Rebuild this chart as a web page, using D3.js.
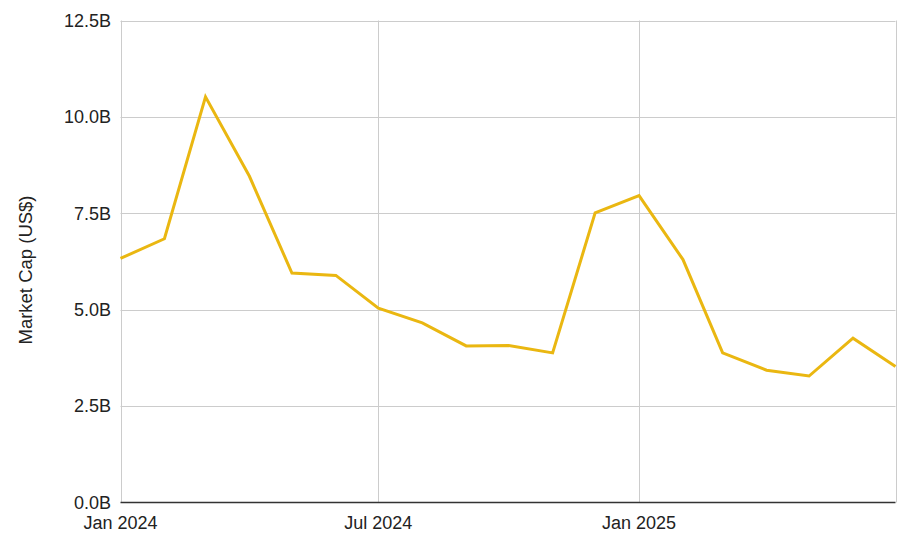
<!DOCTYPE html>
<html><head><meta charset="utf-8">
<script src="https://cdn.jsdelivr.net/npm/d3@7"></script>
<style>body{margin:0;background:#fff}svg{display:block}text{font-family:"Liberation Sans",Arial,sans-serif}</style>
</head><body><svg id="c" width="906" height="534"></svg>
<script>
const months = ["2024-01","2024-02","2024-03","2024-04","2024-05","2024-06","2024-07","2024-08","2024-09","2024-10","2024-11","2024-12","2025-01","2025-02","2025-03","2025-04","2025-05","2025-06","2025-07"];
const marketCap = [6.33,6.84,10.52,8.46,5.95,5.89,5.04,4.66,4.06,4.07,3.88,7.51,7.96,6.30,3.88,3.43,3.28,4.26,3.53];
const yTicks = [0,2.5,5,7.5,10,12.5];
const xTicks = ["2024-01","2024-07","2025-01","2025-07"];
const xTickLabels = ["Jan 2024","Jul 2024","Jan 2025",""];

const svg = d3.select("#c");
const parse = d3.timeParse("%Y-%m");
const L=120.5, R=895.5, T=20.5, B=502.5;
const x = d3.scaleTime().domain([parse("2024-01"), parse("2025-07")]).range([L,R]);
const y = d3.scaleLinear().domain([0,12.5]).range([B,T]);

// horizontal gridlines
svg.append("g").selectAll("line").data(yTicks.filter(d=>d>0)).join("line")
  .attr("x1",L).attr("x2",R).attr("y1",d=>Math.round(y(d))+0.5).attr("y2",d=>Math.round(y(d))+0.5)
  .attr("stroke","#cccccc").attr("stroke-width",1);
// vertical gridlines
svg.append("g").selectAll("line").data(xTicks).join("line")
  .attr("x1",d=>Math.round(x(parse(d)))+0.5).attr("x2",d=>Math.round(x(parse(d)))+0.5)
  .attr("y1",T).attr("y2",B).attr("stroke","#cccccc").attr("stroke-width",1);
// baseline
svg.append("line").attr("x1",L).attr("x2",R).attr("y1",y(0)).attr("y2",y(0))
  .attr("stroke","#333333").attr("stroke-width",1.5);

// y labels
svg.append("g").selectAll("text").data(yTicks).join("text")
  .attr("x",111).attr("y",d=>y(d)).attr("dy","0.35em").attr("text-anchor","end")
  .attr("font-size",18).attr("fill","#222").text(d=>d.toFixed(1)+"B");
// x labels
svg.append("g").selectAll("text").data(xTicks).join("text")
  .attr("x",d=>x(parse(d))).attr("y",529).attr("text-anchor","middle")
  .attr("font-size",18).attr("fill","#222").text((d,i)=>xTickLabels[i]);
// y title
svg.append("text").attr("transform","translate(32,270) rotate(-90)").attr("text-anchor","middle")
  .attr("font-size",18.5).attr("fill","#222").text("Market Cap (US$)");

// line
const line = d3.line().x((d,i)=>x(parse(months[i]))).y(d=>y(d));
svg.append("path").datum(marketCap).attr("d",line).attr("fill","none")
  .attr("stroke","#eab711").attr("stroke-width",3).attr("stroke-linejoin","miter");
</script></body></html>
